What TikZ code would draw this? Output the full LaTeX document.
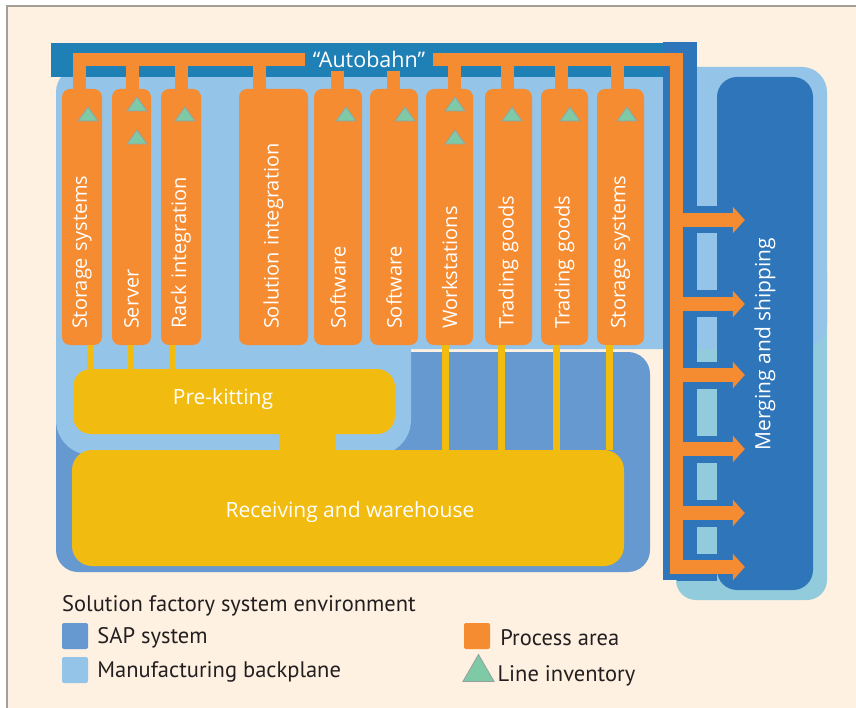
\documentclass[tikz,border=0pt]{standalone}
\usepackage{fontspec}
\setmainfont{Open Sans}
\newfontfamily\keyfont{PT Sans}
\usetikzlibrary{positioning,shapes.geometric,arrows.meta}

\definecolor{paper}{HTML}{FEF1E2}
\definecolor{framegray}{HTML}{A49E98}
\definecolor{bahnteal}{HTML}{1F80B5}
\definecolor{shipblue}{HTML}{2E75BA}
\definecolor{backplane}{HTML}{95C4E9}
\definecolor{sapblue}{HTML}{6699D0}
\definecolor{shiptint}{HTML}{92CBDB}
\definecolor{procorange}{HTML}{F58C31}
\definecolor{hubyellow}{HTML}{F2BB10}
\definecolor{stockgreen}{HTML}{7EC9A6}
\definecolor{stockgray}{HTML}{96A0A0}
\definecolor{keydark}{HTML}{231F20}

\tikzset {
    process/.style={
        fill=procorange,
        rounded corners=8pt,
        rotate=90, % text runs bottom to top, so east is the top end
        minimum width=256pt,
        text width=224pt,
        inner xsep=16pt,
        inner ysep=0pt,
        align=left,
        text=white,
        font=\fontsize{20}{24}\selectfont,
    },
    hub/.style={
        fill=hubyellow,
        rounded corners=18pt,
        inner sep=0pt,
    },
    dockbox/.style={
        fill=shipblue,
        rounded corners=20pt,
        inner sep=0pt,
    },
    caption/.style={
        inner sep=0pt,
        text=white,
        font=\fontsize{21}{25}\selectfont,
    },
    tag/.style={
        fill=bahnteal,
        inner sep=0pt,
        text=white,
        font=\fontsize{21.5}{25}\selectfont,
    },
    feed/.style={draw=procorange, line width=13pt},
    supply/.style={draw=hubyellow, line width=6pt},
    outlet/.style={
        draw=procorange,
        line width=14pt,
        -{Triangle[length=12pt,width=26pt]},
        preaction={draw=shipblue, line width=27pt, arrows=-, shorten >=28pt},
    },
    stock/.style={fill=stockgreen, draw=stockgray, line width=0.8pt},
    swatch/.style={minimum size=26pt, inner sep=0pt, rounded corners=2pt},
    keytext/.style={text=keydark, inner sep=0pt, font=\keyfont\fontsize{22.5}{26}\selectfont},
}

% line inventory mark: centre x, centre y
\newcommand{\stock}[2]{\filldraw[stock] (#1-10,#2+7) -- (#1+10,#2+7) -- (#1,#2-7) -- cycle;}

\begin{document}
\begin{tikzpicture}[x=1pt, y=-1pt]
    \useasboundingbox (0,0) rectangle (856,708);
    \fill[white] (0,0) rectangle (856,708);
    \fill[paper] (7,6) rectangle (856,708);
    \draw[framegray, line width=1.5pt] (7,708) -- (7,6) -- (856,6);

    % areas
    \fill[shiptint, rounded corners=20pt] (676,250) rectangle (827,600);
    \fill[sapblue, rounded corners=22pt] (56,352) rectangle (650,572);
    \fill[backplane, rounded corners=25pt] (56,67) rectangle (827,349);
    \fill[backplane, rounded corners=35pt] (56,250) rectangle (411,455);

    \node[dockbox, minimum width=96pt, minimum height=513pt] (ship) at (765,333.5) {};
    \node[caption, rotate=90] (shiplabel) at (765,344) {Merging and shipping};

    % the autobahn carrier
    \fill[bahnteal] (51,43) rectangle (663,77);
    \fill[shipblue] (663,42) rectangle (697,580);

    % process areas
    \node[process, minimum height=40pt] (p1) at (82,217) {Storage systems};
    \node[process, minimum height=39pt] (p2) at (131.5,217) {Server};
    \node[process, minimum height=40pt] (p3) at (181,217) {Rack integration};
    \node[process, minimum height=69pt] (p4) at (273.5,217) {Solution integration};
    \node[process, minimum height=48pt] (p5) at (338,217) {Software};
    \node[process, minimum height=48pt] (p6) at (394,217) {Software};
    \node[process, minimum height=47pt] (p7) at (449.5,217) {Workstations};
    \node[process, minimum height=47pt] (p8) at (508.5,217) {Trading goods};
    \node[process, minimum height=47pt] (p9) at (564.5,217) {Trading goods};
    \node[process, minimum height=47pt] (p10) at (620.5,217) {Storage systems};

    \stock{88}{114}
    \stock{137}{104} \stock{137}{137}
    \stock{185}{114}
    \stock{346}{114}
    \stock{405}{114}
    \stock{455}{104} \stock{455}{137}
    \stock{512}{114}
    \stock{570}{114}
    \stock{627}{114}

    % kitting and warehouse
    \node[hub, minimum width=322pt, minimum height=65pt] (kit) at (234,401.5) {};
    \node[caption] (kitlabel) at (223,399) {Pre-kitting};
    \node[hub, rounded corners=20pt, minimum width=552pt, minimum height=116pt] (store) at (348,508) {};
    \node[caption] (storelabel) at (350,512) {Receiving and warehouse};
    \draw[hubyellow, line width=57pt] ([xshift=73.5pt]kit.south) -- ([xshift=-40.5pt]store.north);

    \draw[supply] ([xshift=8pt]p1.west) -- ([xshift=8pt]p1.west |- kit.north);
    \draw[supply] ([xshift=-0.5pt]p2.west) -- ([xshift=-0.5pt]p2.west |- kit.north);
    \draw[supply] ([xshift=-9pt]p3.west) -- ([xshift=-9pt]p3.west |- kit.north);
    \draw[supply, line width=7pt] ([xshift=-4pt]p7.west) -- ([xshift=-4pt]p7.west |- store.north);
    \draw[supply, line width=7pt] ([xshift=-7pt]p8.west) -- ([xshift=-7pt]p8.west |- store.north);
    \draw[supply, line width=7pt] ([xshift=-8pt]p9.west) -- ([xshift=-8pt]p9.west |- store.north);
    \draw[supply, line width=7pt] ([xshift=-11pt]p10.west) -- ([xshift=-11pt]p10.west |- store.north);

    % outlets into merging and shipping
    \coordinate (spine) at (676.5,59.5);
    \coordinate (dock) at ([xshift=28pt]ship.west);
    \draw[outlet] (spine |- 0,220) -- (dock |- 0,220);
    \draw[outlet] (spine |- 0,304) -- (dock |- 0,304);
    \draw[outlet] (spine |- 0,375) -- (dock |- 0,375);
    \draw[outlet] (spine |- 0,449) -- (dock |- 0,449);
    \draw[outlet] (spine |- 0,513) -- (dock |- 0,513);
    \draw[outlet] (spine |- 0,567) -- (dock |- 0,567);

    % autobahn
    \draw[feed] ([xshift=-3pt]p1.east) |- (spine) -- (spine |- 0,574);
    \draw[feed] ([xshift=1pt]p2.east) -- ([xshift=1pt]p2.east |- spine);
    \draw[feed] (p3.east) -- (p3.east |- spine);
    \draw[feed] ([xshift=-14.5pt]p4.east) -- ([xshift=-14.5pt]p4.east |- spine);
    \draw[feed] ([xshift=-0.5pt]p5.east) -- ([xshift=-0.5pt]p5.east |- spine);
    \draw[feed] ([xshift=-0.5pt]p6.east) -- ([xshift=-0.5pt]p6.east |- spine);
    \draw[feed] ([xshift=5pt]p7.east) -- ([xshift=5pt]p7.east |- spine);
    \draw[feed] ([xshift=-1pt]p8.east) -- ([xshift=-1pt]p8.east |- spine);
    \draw[feed] ([xshift=-3.5pt]p9.east) -- ([xshift=-3.5pt]p9.east |- spine);
    \draw[feed] ([xshift=-3pt]p10.east) -- ([xshift=-3pt]p10.east |- spine);
    \node[tag, minimum width=128pt, minimum height=24pt] (autobahn) at (369,59.5) {“Autobahn”};

    % legend
    \node[keytext, anchor=west] (keytitle) at (62,606) {Solution factory system environment};
    \node[swatch, fill=sapblue] (sapkey) at (75,636) {};
    \node[keytext, right=9pt of sapkey, yshift=-2pt] (saptext) {SAP system};
    \node[swatch, fill=backplane] (backkey) at (75,670) {};
    \node[keytext, right=9pt of backkey, yshift=-2pt] (backtext) {Manufacturing backplane};
    \node[swatch, fill=procorange] (prockey) at (477,636) {};
    \node[keytext, right=10pt of prockey, yshift=-2pt] (proctext) {Process area};
    \node[stock, regular polygon, regular polygon sides=3, minimum size=36pt, inner sep=0pt] (stockkey) at (478.5,672.5) {};
    \node[keytext, right=8pt of stockkey, yshift=-3pt] (stocktext) {Line inventory};
\end{tikzpicture}
\end{document}
